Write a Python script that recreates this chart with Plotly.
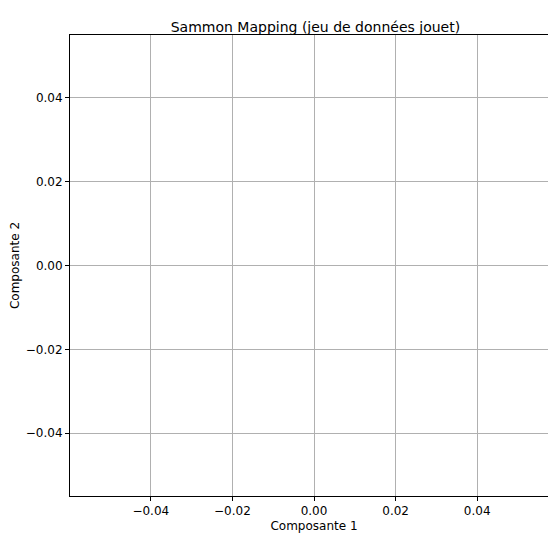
import plotly.graph_objects as go

# empty dataset: no points are drawn
comp1 = []
comp2 = []
tick_vals = [-0.04, -0.02, 0.0, 0.02, 0.04]

fig = go.Figure(go.Scatter(x=comp1, y=comp2, mode='markers', showlegend=False))

axis_style = dict(
    showgrid=True, gridcolor='#b0b0b0', gridwidth=0.8,
    zeroline=False, showline=True, linecolor='black', linewidth=1, mirror=True,
    ticks='outside', ticklen=4, tickcolor='black', tickvals=tick_vals,
    tickformat='.2f', tickfont=dict(size=12, color='black'),
)

fig.update_layout(
    width=556, height=548,
    margin=dict(l=61, r=5, t=27, b=60),
    paper_bgcolor='white', plot_bgcolor='white',
    font=dict(family='DejaVu Sans', color='black'),
    title=dict(text='Sammon Mapping (jeu de données jouet)', x=0.553, xanchor='center',
               y=0.957, yanchor='bottom', font=dict(size=14)),
    xaxis=dict(axis_style, range=[-0.0598, 0.0598],
               title=dict(text='Composante 1', font=dict(size=12), standoff=4)),
    yaxis=dict(axis_style, range=[-0.055, 0.055],
               title=dict(text='Composante 2', font=dict(size=12), standoff=4)),
)

fig.write_html('out.html')
